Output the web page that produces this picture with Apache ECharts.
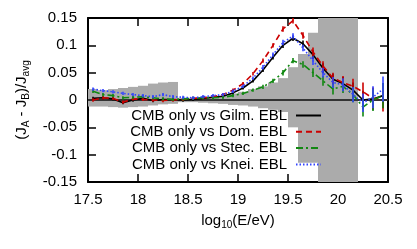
<!DOCTYPE html>
<html><head><meta charset="utf-8">
<script src="https://cdn.jsdelivr.net/npm/echarts@6/dist/echarts.min.js"></script>
<style>html,body{margin:0;padding:0;background:#fff}#c{width:417px;height:249px}</style>
</head><body><div id="c"></div>
<script>
// ---- data ----
const energies = [17.55,17.65,17.75,17.85,17.95,18.05,18.15,18.25,18.35,18.45,18.55,18.65,18.75,18.85,18.95,19.05,19.15,19.25,19.35,19.45,19.55,19.65,19.75,19.85,19.95,20.05,20.15,20.25,20.35,20.45];
const gilm = [0.003,0.004,0.002,-0.005,0.0,0.003,-0.001,0.001,0.001,0.0,0.001,0.003,0.005,0.007,0.013,0.022,0.035,0.055,0.078,0.100,0.113,0.103,0.083,0.058,0.038,0.030,0.018,0.000,0.002,0.008];
const dom  = [0.0,0.004,0.003,-0.004,0.002,0.001,0.0,-0.001,0.0,0.001,0.003,0.004,0.006,0.010,0.018,0.030,0.048,0.072,0.100,0.130,0.145,0.118,0.088,0.062,0.040,0.032,0.025,0.015,0.003,0.002];
const stec = [0.016,0.010,0.008,0.004,0.005,0.006,0.004,0.002,0.001,0.002,0.003,0.004,0.004,0.005,0.008,0.012,0.018,0.024,0.035,0.050,0.072,0.065,0.050,0.035,0.020,0.025,0.010,-0.013,0.0,0.008];
const knei = [0.020,0.017,0.015,0.012,0.010,0.008,0.006,0.010,0.006,0.005,0.004,0.006,0.008,0.010,0.016,0.025,0.040,0.060,0.083,0.105,0.117,0.095,0.072,0.050,0.032,0.028,0.010,-0.005,0.005,0.020];
const errors = [0.003,0.003,0.003,0.003,0.003,0.003,0.003,0.003,0.003,0.003,0.003,0.003,0.003,0.003,0.003,0.003,0.003,0.004,0.004,0.005,0.005,0.006,0.008,0.009,0.010,0.012,0.014,0.017,0.020,0.023];
const bandStart = [17.5,17.6,17.7,17.8,17.9,18.0,18.1,18.2,18.3,18.4,18.5,18.6,18.7,18.8,18.9,19.0,19.1,19.2,19.3,19.4,19.5,19.6,19.7,19.8,19.9,20.0,20.1];
const bandHi = [0.020,0.018,0.020,0.022,0.024,0.026,0.030,0.032,0.033,0.004,0.004,0.005,0.006,0.007,0.012,0.015,0.020,0.025,0.032,0.040,0.060,0.084,0.123,0.3,0.3,0.3,0.3];
const bandLo = [-0.012,-0.012,-0.013,-0.014,-0.013,-0.012,-0.010,-0.008,-0.007,-0.004,-0.004,-0.005,-0.006,-0.007,-0.009,-0.010,-0.012,-0.015,-0.018,-0.022,-0.050,-0.115,-0.115,-0.3,-0.3,-0.3,-0.3];
const binWidth = 0.1;
const seriesNames = ['CMB only vs Gilm. EBL','CMB only vs Dom. EBL','CMB only vs Stec. EBL','CMB only vs Knei. EBL'];
const xTicks = ['17.5','18','18.5','19','19.5','20','20.5'];
const yTicks = ['-0.15','-0.1','-0.05','0','0.05','0.1','0.15'];

const FONT = "'Liberation Sans', Arial, sans-serif";
const colors = ['#000000','#cc0000','#118811','#3344ff'];
const dashes = ['solid',[6,4],[7,3,2,3],[1.5,2]];
const values = [gilm, dom, stec, knei];

const chart = echarts.init(document.getElementById('c'), null, {renderer:'canvas'});

function clip(shape, params){
  return echarts.graphic.clipRectByRect(shape, {x:params.coordSys.x,y:params.coordSys.y,width:params.coordSys.width,height:params.coordSys.height});
}

const series = [];
series.push({
  type:'custom', name:'band', z:1, silent:true,
  data: bandStart.map((s,i)=>[s,bandLo[i],bandHi[i]]),
  renderItem:function(params, api){
    const p1 = api.coord([api.value(0), api.value(2)]);
    const p2 = api.coord([api.value(0)+binWidth, api.value(1)]);
    const r = clip({x:p1[0], y:p1[1], width:p2[0]-p1[0], height:p2[1]-p1[1]}, params);
    return r && {type:'rect', shape:r, style:{fill:'#ababab'}};
  },
  encode:{x:0,y:[1,2]}
});
series.push({
  type:'line', name:'zero', z:2, silent:true, symbol:'none',
  data:[[17.5,0],[20.5,0]],
  lineStyle:{color:'#333',width:2}
});
values.forEach((vals,k)=>{
  series.push({
    type:'line', name:seriesNames[k], z:5+k, symbol:'none',
    data: energies.map((e,i)=>[e,vals[i]]),
    lineStyle:{color:colors[k], width:1.6, type:dashes[k]},
    itemStyle:{color:colors[k]}
  });
  series.push({
    type:'custom', name:'err'+k, z:5+k, silent:true,
    data: energies.map((e,i)=>[e,vals[i],errors[i]]),
    renderItem:function(params, api){
      const x = api.value(0), y = api.value(1), e = api.value(2);
      const a = api.coord([x, y+e]), b = api.coord([x, y-e]);
      return {type:'line', shape:{x1:a[0],y1:a[1],x2:b[0],y2:b[1]}, style:{stroke:colors[k], lineWidth:1.6}};
    },
    encode:{x:0,y:1}
  });
});

const legends = seriesNames.map((n,k)=>({
  data:[n], right:95, top:108+k*16.3, orient:'horizontal', align:'right',
  itemWidth:25, itemHeight:14, itemGap:0, padding:0,
  itemStyle:{color:'rgba(0,0,0,0)', borderColor:'rgba(0,0,0,0)', borderWidth:0},
  textStyle:{fontFamily:FONT, fontSize:15, color:'#000', padding:[0,4,0,0]},
  selectedMode:false
}));

const axisCommonX = {type:'value', min:17.5, max:20.5, interval:0.5, splitLine:{show:false}};
const axisCommonY = {type:'value', min:-0.15, max:0.15, interval:0.05, splitLine:{show:false}};
const option = {
  animation:false,
  backgroundColor:'#fff',
  grid:{left:88, right:29, top:18, bottom:67},
  legend: legends,
  xAxis:[
    Object.assign({}, axisCommonX, {
      position:'bottom',
      axisLine:{show:true, onZero:false, lineStyle:{color:'#000', width:2}},
      axisTick:{show:true, inside:true, length:8, lineStyle:{color:'#000', width:1.5}},
      axisLabel:{fontFamily:FONT, fontSize:15, color:'#000', margin:10,
        formatter:v=>xTicks[Math.round((v-17.5)/0.5)]},
      name:'log{sub|10}(E/eV)', nameLocation:'middle', nameGap:30,
      nameTextStyle:{fontFamily:FONT, fontSize:15, color:'#000',
        rich:{sub:{fontFamily:FONT, fontSize:10, color:'#000', verticalAlign:'bottom', padding:[8,0,0,0]}}}
    }),
    Object.assign({}, axisCommonX, {
      position:'top',
      axisLine:{show:true, onZero:false, lineStyle:{color:'#000', width:2}},
      axisTick:{show:true, inside:true, length:8, lineStyle:{color:'#000', width:1.5}},
      axisLabel:{show:false}
    })
  ],
  yAxis:[
    Object.assign({}, axisCommonY, {
      position:'left',
      axisLine:{show:true, onZero:false, lineStyle:{color:'#000', width:2}},
      axisTick:{show:true, inside:true, length:8, lineStyle:{color:'#000', width:1.5}},
      axisLabel:{fontFamily:FONT, fontSize:15, color:'#000', margin:11,
        formatter:v=>yTicks[Math.round((v+0.15)/0.05)]},
      name:'(J{sub|A} - J{sub|B})/J{sub|avg}', nameLocation:'middle', nameGap:57,
      nameTextStyle:{fontFamily:FONT, fontSize:15, color:'#000',
        rich:{sub:{fontFamily:FONT, fontSize:10, color:'#000', verticalAlign:'bottom', padding:[8,0,0,0]}}}
    }),
    Object.assign({}, axisCommonY, {
      position:'right',
      axisLine:{show:true, onZero:false, lineStyle:{color:'#000', width:2}},
      axisTick:{show:true, inside:true, length:8, lineStyle:{color:'#000', width:1.5}},
      axisLabel:{show:false}
    })
  ],
  series: series
};
chart.setOption(option);
</script>
</body></html>
